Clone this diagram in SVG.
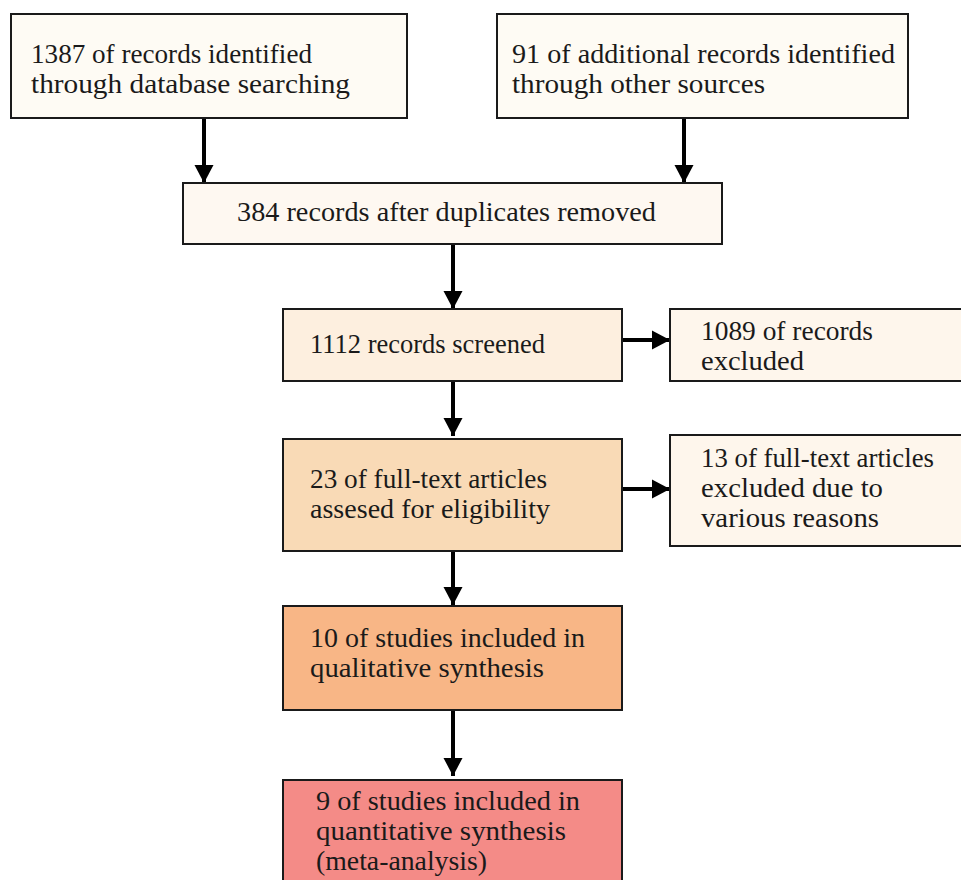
<svg xmlns="http://www.w3.org/2000/svg" width="961" height="880" viewBox="0 0 961 880">
<style>
.box{stroke:#1a1a1a;stroke-width:2}
.t{font-family:"Liberation Serif","DejaVu Serif",serif;font-size:28px;fill:#1a1a1a}
.c{stroke:#000;stroke-width:4;fill:none}
</style>
<defs>
<marker id="ah" markerUnits="userSpaceOnUse" markerWidth="20" markerHeight="20" viewBox="0 0 20 20" refX="18" refY="10" orient="auto">
<path d="M0,0.5 L18,10 L0,19.5 Z" fill="#000"/>
</marker>
</defs>
<rect width="961" height="880" fill="#fff"/>
<g id="connectors">
<line class="c" x1="204" y1="118" x2="204" y2="183" marker-end="url(#ah)"/>
<line class="c" x1="684" y1="118" x2="684" y2="183" marker-end="url(#ah)"/>
<line class="c" x1="453" y1="244" x2="453" y2="309" marker-end="url(#ah)"/>
<line class="c" x1="622" y1="340" x2="670" y2="340" marker-end="url(#ah)"/>
<line class="c" x1="453" y1="381" x2="453" y2="436" marker-end="url(#ah)"/>
<line class="c" x1="622" y1="489" x2="670" y2="489" marker-end="url(#ah)"/>
<line class="c" x1="453" y1="551" x2="453" y2="605" marker-end="url(#ah)"/>
<line class="c" x1="453" y1="710" x2="453" y2="776" marker-end="url(#ah)"/>
</g>
<g id="n1">
<rect class="box" x="11" y="14" width="396" height="104" fill="#fefbf4"/>
<text class="t" x="31" y="63" textLength="281" lengthAdjust="spacingAndGlyphs">1387 of records identified</text>
<text class="t" x="31" y="93" textLength="319" lengthAdjust="spacingAndGlyphs">through database searching</text>
</g>
<g id="n2">
<rect class="box" x="497" y="14" width="411" height="104" fill="#fefbf4"/>
<text class="t" x="512" y="63" textLength="383" lengthAdjust="spacingAndGlyphs">91 of additional records identified</text>
<text class="t" x="512" y="93" textLength="253" lengthAdjust="spacingAndGlyphs">through other sources</text>
</g>
<g id="n3">
<rect class="box" x="183" y="183" width="539" height="61" fill="#fef8f1"/>
<text class="t" x="237" y="221" textLength="419" lengthAdjust="spacingAndGlyphs">384 records after duplicates removed</text>
</g>
<g id="n4">
<rect class="box" x="283" y="309" width="339" height="72" fill="#fdefdf"/>
<text class="t" x="310" y="353" textLength="235" lengthAdjust="spacingAndGlyphs">1112 records screened</text>
</g>
<g id="n5">
<rect class="box" x="670" y="309" width="300" height="72" fill="#fef6ec"/>
<text class="t" x="701" y="340" textLength="172" lengthAdjust="spacingAndGlyphs">1089 of records</text>
<text class="t" x="701" y="370" textLength="103" lengthAdjust="spacingAndGlyphs">excluded</text>
</g>
<g id="n6">
<rect class="box" x="283" y="439" width="339" height="112" fill="#f9dab6"/>
<text class="t" x="310" y="488" textLength="237" lengthAdjust="spacingAndGlyphs">23 of full-text articles</text>
<text class="t" x="310" y="518" textLength="240" lengthAdjust="spacingAndGlyphs">assesed for eligibility</text>
</g>
<g id="n7">
<rect class="box" x="670" y="435" width="300" height="111" fill="#fef6ec"/>
<text class="t" x="701" y="467" textLength="233" lengthAdjust="spacingAndGlyphs">13 of full-text articles</text>
<text class="t" x="701" y="497" textLength="182" lengthAdjust="spacingAndGlyphs">excluded due to</text>
<text class="t" x="701" y="527" textLength="178" lengthAdjust="spacingAndGlyphs">various reasons</text>
</g>
<g id="n8">
<rect class="box" x="283" y="606" width="339" height="104" fill="#f8b686"/>
<text class="t" x="310" y="647" textLength="275" lengthAdjust="spacingAndGlyphs">10 of studies included in</text>
<text class="t" x="310" y="677" textLength="234" lengthAdjust="spacingAndGlyphs">qualitative synthesis</text>
</g>
<g id="n9">
<rect class="box" x="283" y="780" width="339" height="110" fill="#f48b87"/>
<text class="t" x="316" y="810" textLength="264" lengthAdjust="spacingAndGlyphs">9 of studies included in</text>
<text class="t" x="316" y="840" textLength="250" lengthAdjust="spacingAndGlyphs">quantitative synthesis</text>
<text class="t" x="316" y="870" textLength="171" lengthAdjust="spacingAndGlyphs">(meta-analysis)</text>
</g>
</svg>
